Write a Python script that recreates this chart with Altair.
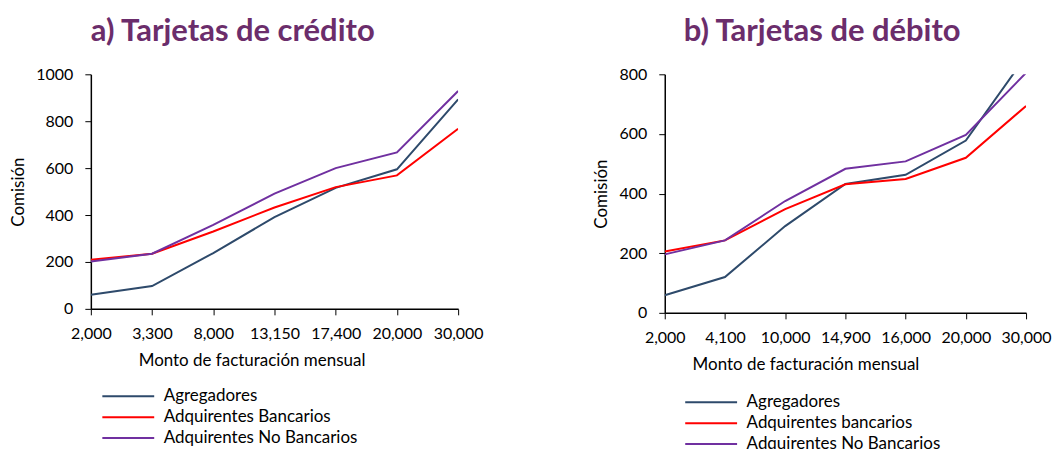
import altair as alt
import pandas as pd

# Panel a) Tarjetas de crédito
cat_a = ["2,000", "3,300", "8,000", "13,150", "17,400", "20,000", "30,000"]
agreg_a = [60, 97, 238, 391, 516, 595, 893]
banc_a = [209, 235, 330, 432, 519, 569, 768]
nobanc_a = [202, 235, 358, 491, 600, 667, 929]
series_a = ["Agregadores", "Adquirentes Bancarios", "Adquirentes No Bancarios"]

# Panel b) Tarjetas de débito
cat_b = ["2,000", "4,100", "10,000", "14,900", "16,000", "20,000", "30,000"]
agreg_b = [59, 120, 291, 432, 463, 578, 861]
banc_b = [206, 243, 348, 431, 449, 520, 694]
nobanc_b = [196, 243, 375, 483, 508, 597, 805]
series_b = ["Agregadores", "Adquirentes bancarios", "Adquirentes No Bancarios"]

colors = ["#2E4A6B", "#FF0000", "#7030A0"]
FONT = "Lato"
TITLE_COLOR = "#6B2D6B"
LINE_SYMBOL = "M-5,0H5"


def make_df(cats, vals_list, names):
    rows = []
    for name, vals in zip(names, vals_list):
        for c, v in zip(cats, vals):
            rows.append({"monto": c, "comision": v, "serie": name})
    return pd.DataFrame(rows)


df_a = make_df(cat_a, [agreg_a, banc_a, nobanc_a], series_a)
df_b = make_df(cat_b, [agreg_b, banc_b, nobanc_b], series_b)


def panel(df, cats, names, ymax, title, width, height, title_dx, title_off, xtitle_x,
          legend_x, legend_y, ytitle_pad):
    return alt.Chart(df).mark_line(strokeWidth=2, clip=True).encode(
        x=alt.X("monto:N", sort=cats,
                scale=alt.Scale(type="point", padding=0),
                axis=alt.Axis(title="Monto de facturación mensual", labelAngle=0,
                              titleX=xtitle_x, titlePadding=11, labelPadding=11)),
        y=alt.Y("comision:Q",
                scale=alt.Scale(domain=[0, ymax], nice=False),
                axis=alt.Axis(title="Comisión", values=list(range(0, ymax + 1, 200)),
                              format="d", titlePadding=ytitle_pad, labelPadding=12)),
        color=alt.Color("serie:N", sort=names,
                        scale=alt.Scale(domain=names, range=colors),
                        legend=alt.Legend(title=None, orient="none",
                                          legendX=legend_x, legendY=legend_y,
                                          direction="vertical",
                                          symbolType=LINE_SYMBOL, symbolSize=108,
                                          symbolStrokeWidth=2, labelOffset=27,
                                          rowPadding=3, padding=0, labelLimit=400,
                                          labelFont=FONT, labelFontSize=17,
                                          labelColor="#000000")),
        detail="serie:N",
    ).properties(
        width=width, height=height,
        title=alt.TitleParams(title, anchor="start", frame="group", dx=title_dx,
                              font=FONT, fontSize=31, fontWeight="bold",
                              color=TITLE_COLOR, offset=title_off),
    )


pa = panel(df_a, cat_a, series_a, 1000, "a) Tarjetas de crédito", 368, 235, 0, 18, 161,
           29, 314, 8)
pb = panel(df_b, cat_b, series_b, 800, "b) Tarjetas de débito", 362, 239, 19, 18, 141,
           38, 320, 9)

chart = alt.hconcat(pa, pb, spacing=108).resolve_scale(color="independent").properties(
    padding={"left": 1, "top": 8, "right": 0, "bottom": 0}
).configure_view(
    stroke=None
).configure_axis(
    grid=False, domainColor="#000000", tickColor="#000000", tickSize=6,
    labelFont=FONT, labelFontSize=16, labelColor="#000000",
    titleFont=FONT, titleFontSize=17, titleFontWeight="normal", titleColor="#000000",
    domainWidth=1.5,
)

chart.save("out.html", embed_options={"renderer": "svg", "actions": False})
